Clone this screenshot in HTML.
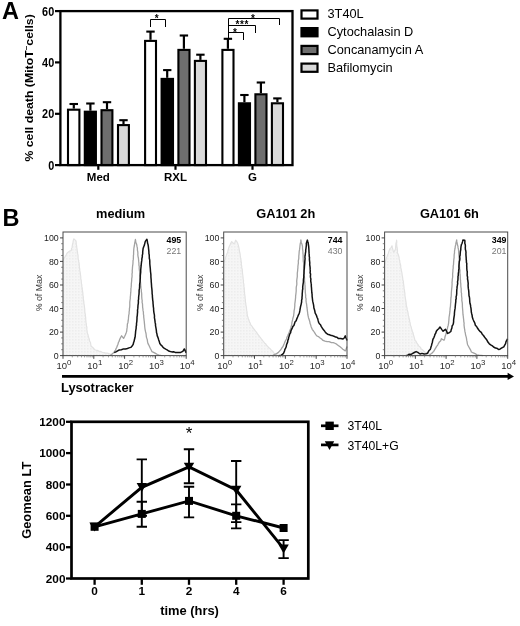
<!DOCTYPE html>
<html><head><meta charset="utf-8"><title>Figure</title>
<style>
html,body{margin:0;padding:0;background:#fff;}
body{width:520px;height:626px;overflow:hidden;}
svg{display:block;filter:blur(0.35px);font-family:"Liberation Sans",sans-serif;}
svg text{font-family:"Liberation Sans",sans-serif;}
.b{font-weight:bold;}
</style></head><body>
<svg width="520" height="626" viewBox="0 0 520 626">
<rect width="520" height="626" fill="#fff"/>
<g id="panelA">
<line x1="73.8" y1="108.6" x2="73.8" y2="104.0" stroke="#000" stroke-width="2.2"/>
<line x1="69.5" y1="104.0" x2="78.0" y2="104.0" stroke="#000" stroke-width="2.1"/>
<rect x="68.0" y="109.7" width="11.4" height="55.4" fill="#fff" stroke="#000" stroke-width="2.1"/>
<line x1="90.4" y1="110.7" x2="90.4" y2="103.5" stroke="#000" stroke-width="2.2"/>
<line x1="86.2" y1="103.5" x2="94.6" y2="103.5" stroke="#000" stroke-width="2.1"/>
<rect x="84.8" y="111.7" width="11.1" height="53.4" fill="#000" stroke="#000" stroke-width="2.1"/>
<line x1="107.0" y1="109.1" x2="107.0" y2="102.2" stroke="#000" stroke-width="2.2"/>
<line x1="102.8" y1="102.2" x2="111.2" y2="102.2" stroke="#000" stroke-width="2.1"/>
<rect x="101.5" y="110.2" width="10.9" height="54.9" fill="#6e6e6e" stroke="#000" stroke-width="2.1"/>
<line x1="123.5" y1="124.0" x2="123.5" y2="120.2" stroke="#000" stroke-width="2.2"/>
<line x1="119.3" y1="120.2" x2="127.7" y2="120.2" stroke="#000" stroke-width="2.1"/>
<rect x="118.0" y="125.1" width="10.9" height="40.0" fill="#d9d9d9" stroke="#000" stroke-width="2.1"/>
<line x1="150.5" y1="39.8" x2="150.5" y2="31.6" stroke="#000" stroke-width="2.2"/>
<line x1="146.3" y1="31.6" x2="154.7" y2="31.6" stroke="#000" stroke-width="2.1"/>
<rect x="145.1" y="40.9" width="10.9" height="124.2" fill="#fff" stroke="#000" stroke-width="2.1"/>
<line x1="167.2" y1="77.8" x2="167.2" y2="70.1" stroke="#000" stroke-width="2.2"/>
<line x1="163.1" y1="70.1" x2="171.4" y2="70.1" stroke="#000" stroke-width="2.1"/>
<rect x="161.6" y="78.9" width="11.4" height="86.2" fill="#000" stroke="#000" stroke-width="2.1"/>
<line x1="183.9" y1="48.8" x2="183.9" y2="35.5" stroke="#000" stroke-width="2.2"/>
<line x1="179.7" y1="35.5" x2="188.1" y2="35.5" stroke="#000" stroke-width="2.1"/>
<rect x="178.4" y="49.9" width="11.1" height="115.2" fill="#6e6e6e" stroke="#000" stroke-width="2.1"/>
<line x1="200.4" y1="59.9" x2="200.4" y2="54.7" stroke="#000" stroke-width="2.2"/>
<line x1="196.2" y1="54.7" x2="204.6" y2="54.7" stroke="#000" stroke-width="2.1"/>
<rect x="194.9" y="60.9" width="11.1" height="104.2" fill="#d9d9d9" stroke="#000" stroke-width="2.1"/>
<line x1="227.9" y1="48.8" x2="227.9" y2="38.8" stroke="#000" stroke-width="2.2"/>
<line x1="223.7" y1="38.8" x2="232.1" y2="38.8" stroke="#000" stroke-width="2.1"/>
<rect x="222.4" y="49.9" width="11.1" height="115.2" fill="#fff" stroke="#000" stroke-width="2.1"/>
<line x1="244.4" y1="102.2" x2="244.4" y2="95.0" stroke="#000" stroke-width="2.2"/>
<line x1="240.2" y1="95.0" x2="248.6" y2="95.0" stroke="#000" stroke-width="2.1"/>
<rect x="238.9" y="103.3" width="11.1" height="61.8" fill="#000" stroke="#000" stroke-width="2.1"/>
<line x1="260.9" y1="93.2" x2="260.9" y2="82.5" stroke="#000" stroke-width="2.2"/>
<line x1="256.7" y1="82.5" x2="265.1" y2="82.5" stroke="#000" stroke-width="2.1"/>
<rect x="255.4" y="94.3" width="11.1" height="70.8" fill="#6e6e6e" stroke="#000" stroke-width="2.1"/>
<line x1="277.4" y1="102.2" x2="277.4" y2="98.4" stroke="#000" stroke-width="2.2"/>
<line x1="273.2" y1="98.4" x2="281.6" y2="98.4" stroke="#000" stroke-width="2.1"/>
<rect x="271.9" y="103.3" width="11.1" height="61.8" fill="#d9d9d9" stroke="#000" stroke-width="2.1"/>
<rect x="60.4" y="11.1" width="232.1" height="154" fill="none" stroke="#000" stroke-width="2.3"/>
<line x1="55" y1="165.1" x2="60.4" y2="165.1" stroke="#000" stroke-width="2.2"/>
<text transform="translate(54.2,169.5) scale(0.87,1)" class="b" font-size="12.5" text-anchor="end">0</text>
<line x1="55" y1="113.8" x2="60.4" y2="113.8" stroke="#000" stroke-width="2.2"/>
<text transform="translate(54.2,118.2) scale(0.87,1)" class="b" font-size="12.5" text-anchor="end">20</text>
<line x1="55" y1="62.4" x2="60.4" y2="62.4" stroke="#000" stroke-width="2.2"/>
<text transform="translate(54.2,66.8) scale(0.87,1)" class="b" font-size="12.5" text-anchor="end">40</text>
<line x1="55" y1="11.1" x2="60.4" y2="11.1" stroke="#000" stroke-width="2.2"/>
<text transform="translate(54.2,15.5) scale(0.87,1)" class="b" font-size="12.5" text-anchor="end">60</text>
<line x1="98.3" y1="165.1" x2="98.3" y2="169.8" stroke="#000" stroke-width="2.2"/>
<text x="98.3" y="180.6" class="b" font-size="11.5" text-anchor="middle">Med</text>
<line x1="175.5" y1="165.1" x2="175.5" y2="169.8" stroke="#000" stroke-width="2.2"/>
<text x="175.5" y="180.6" class="b" font-size="11.5" text-anchor="middle">RXL</text>
<line x1="252.5" y1="165.1" x2="252.5" y2="169.8" stroke="#000" stroke-width="2.2"/>
<text x="252.5" y="180.6" class="b" font-size="11.5" text-anchor="middle">G</text>
<path d="M150.5 27 V19.5 H165.5 V27" fill="none" stroke="#000" stroke-width="1"/>
<text x="156.8" y="22.3" font-size="10" class="b" text-anchor="middle">*</text>
<path d="M228.5 40 V18.5 H279.5 V25" fill="none" stroke="#000" stroke-width="1"/>
<path d="M228.5 25.5 H255.5 V33" fill="none" stroke="#000" stroke-width="1"/>
<path d="M228.5 32.5 H243.5 V40" fill="none" stroke="#000" stroke-width="1"/>
<text x="253" y="21.5" font-size="10" class="b" text-anchor="middle">*</text>
<text x="242.3" y="28.3" font-size="10" class="b" text-anchor="middle" letter-spacing="0.6">***</text>
<text x="235" y="35.5" font-size="10" class="b" text-anchor="middle">*</text>
<text id="ylabA" transform="translate(32.6,87.9) scale(0.9,1) rotate(-90)" class="b" font-size="12.3" text-anchor="middle">% cell death (MitoT<tspan dy="-4" font-size="8">&#8722;</tspan><tspan dy="4">cells)</tspan></text>
<rect x="301.5" y="10.4" width="16" height="8.2" fill="#fff" stroke="#000" stroke-width="2.2"/>
<text x="327.5" y="18.3" font-size="12.75">3T40L</text>
<rect x="301.5" y="28.1" width="16" height="8.2" fill="#000" stroke="#000" stroke-width="2.2"/>
<text x="327.5" y="36.0" font-size="12.75">Cytochalasin D</text>
<rect x="301.5" y="45.9" width="16" height="8.2" fill="#6e6e6e" stroke="#000" stroke-width="2.2"/>
<text x="327.5" y="53.8" font-size="12.75">Concanamycin A</text>
<rect x="301.5" y="63.6" width="16" height="8.2" fill="#d9d9d9" stroke="#000" stroke-width="2.2"/>
<text x="327.5" y="71.5" font-size="12.75">Bafilomycin</text>
<text x="2" y="19" class="b" font-size="23.5">A</text>
</g>
<g id="panelB">
<text x="2.5" y="225.5" class="b" font-size="23.5">B</text>
<defs><pattern id="dots" width="3" height="3" patternUnits="userSpaceOnUse"><rect width="3" height="3" fill="#f6f6f6"/><rect width="1.5" height="1.5" fill="#ededed"/></pattern></defs>
<path d="M63.1 260.0 L64.0 258.2 L65.0 256.8 L66.1 255.0 L67.1 252.9 L68.4 252.0 L69.7 251.1 L71.3 250.5 L71.5 248.6 L72.1 247.4 L72.3 245.7 L72.5 244.3 L73.0 242.6 L73.3 240.4 L73.9 238.8 L76.0 240.9 L76.2 242.9 L76.3 244.4 L76.6 245.6 L76.8 247.8 L77.1 249.1 L77.2 250.8 L77.6 252.7 L77.7 253.9 L78.1 255.7 L78.1 257.5 L78.2 259.3 L78.7 260.5 L78.8 261.9 L79.1 263.4 L79.3 265.6 L79.4 267.3 L79.7 268.9 L79.8 270.4 L80.2 272.3 L80.3 273.7 L80.5 275.0 L80.8 277.1 L80.8 278.9 L81.2 280.2 L81.3 281.6 L81.4 283.3 L81.8 284.9 L81.8 286.6 L82.3 288.5 L82.3 289.9 L82.7 291.9 L82.9 293.8 L82.9 295.0 L83.3 296.8 L83.3 298.9 L83.5 299.9 L83.8 301.6 L83.9 303.6 L84.2 304.8 L84.4 306.7 L84.7 308.8 L84.8 310.1 L84.8 311.8 L85.2 313.6 L85.4 315.2 L85.5 316.5 L85.7 317.8 L85.7 319.4 L85.9 321.2 L86.1 322.9 L86.3 324.2 L86.5 325.9 L86.9 327.5 L86.8 329.6 L87.1 330.9 L87.2 332.6 L88.0 334.7 L88.3 336.0 L88.7 337.4 L89.3 339.3 L89.7 341.4 L90.5 342.4 L90.7 344.5 L91.2 346.2 L92.8 347.5 L94.1 349.1 L95.3 350.0 L97.2 350.4 L98.8 351.1 L100.3 351.4 L102.3 352.2 L103.9 352.7 L105.6 353.1 L107.2 353.0 L108.7 353.6 L110.8 354.3 L113.0 355.4 L112.9 355.6 L63.0 355.6 Z" fill="url(#dots)" stroke="#e2e2e2" stroke-width="1.2" stroke-linejoin="round"/>
<path d="M110.2 355.6 L111.5 354.6 L113.0 353.2 L114.2 351.9 L115.5 350.0 L116.1 348.5 L116.8 347.2 L117.3 345.8 L118.0 344.2 L118.5 342.2 L119.1 341.3 L119.6 339.6 L120.6 337.5 L121.6 335.8 L123.6 338.4 L124.7 336.2 L125.4 334.7 L126.3 332.4 L126.7 331.3 L126.9 329.0 L127.1 327.9 L127.3 325.7 L127.4 323.9 L127.9 322.7 L128.2 320.7 L128.4 318.9 L128.5 317.5 L128.7 315.4 L129.1 313.7 L129.1 312.0 L129.4 310.3 L129.4 308.8 L129.7 307.2 L129.8 305.5 L129.8 303.9 L129.8 302.2 L130.0 300.5 L130.3 298.5 L130.3 297.0 L130.5 295.7 L130.6 293.7 L130.8 292.2 L130.9 290.2 L130.9 288.7 L131.1 287.4 L131.3 285.6 L131.3 284.1 L131.5 282.3 L131.7 280.5 L131.7 278.8 L132.0 277.2 L132.1 275.7 L132.0 274.2 L132.3 272.3 L132.2 270.9 L132.4 268.7 L132.5 267.0 L132.7 265.4 L132.9 264.2 L133.0 262.2 L133.0 260.9 L133.3 259.4 L133.4 257.3 L133.4 255.7 L133.6 254.5 L133.6 252.3 L133.7 250.9 L133.8 249.0 L134.0 247.5 L134.4 245.5 L134.7 243.2 L135.0 241.8 L135.4 239.5 L135.8 241.7 L136.1 242.9 L136.7 244.5 L137.0 246.4 L137.4 248.2 L137.4 250.1 L137.7 251.3 L137.9 253.3 L137.8 254.7 L138.1 256.8 L138.4 258.0 L138.6 260.1 L138.7 261.4 L138.9 263.1 L138.9 265.0 L139.3 266.8 L139.2 268.3 L139.4 270.1 L139.6 271.5 L139.7 273.2 L139.9 274.9 L140.0 276.9 L140.1 278.3 L140.2 279.8 L140.4 281.4 L140.6 283.3 L140.7 284.6 L140.8 286.7 L141.0 288.2 L141.3 289.6 L141.3 291.2 L141.6 293.0 L141.7 294.4 L141.7 296.2 L141.8 297.6 L141.9 299.0 L142.2 300.6 L142.1 302.4 L142.5 303.9 L142.6 306.0 L142.6 307.2 L142.9 308.9 L143.0 310.4 L143.4 312.1 L143.4 314.2 L143.7 315.3 L143.7 317.0 L143.9 318.4 L144.1 320.3 L144.3 321.7 L144.4 323.2 L144.6 324.9 L144.7 326.5 L144.9 328.3 L145.2 330.1 L145.6 331.9 L146.0 333.5 L146.2 335.0 L146.4 337.1 L146.9 338.6 L147.3 339.8 L147.6 342.1 L148.0 343.6 L148.7 344.8 L149.6 346.7 L150.4 348.5 L151.2 350.0 L152.0 351.7 L153.6 352.4 L155.5 353.4 L157.4 354.5 L159.1 355.1 L161.0 355.4 L162.6 355.6" fill="none" stroke="#a2a2a2" stroke-width="1.3" stroke-linejoin="round"/>
<path d="M114.2 352.6 L115.9 351.9 L117.6 350.8 L119.2 350.0 L121.4 349.7 L123.5 348.9 L125.5 349.0 L127.4 348.5 L129.0 347.9 L130.8 347.4 L132.1 346.0 L133.2 344.4 L133.6 342.5 L134.1 341.3 L134.4 339.7 L134.9 337.8 L135.2 336.5 L135.3 334.9 L135.5 333.2 L135.6 331.6 L135.8 330.2 L136.1 328.6 L136.2 326.4 L136.5 325.3 L136.5 323.5 L136.8 321.7 L136.9 320.1 L137.0 318.4 L137.0 317.2 L137.3 315.5 L137.4 313.9 L137.6 311.9 L137.5 310.4 L137.8 308.4 L137.9 307.1 L138.0 305.2 L138.3 303.7 L138.4 301.9 L138.3 300.7 L138.6 299.2 L138.6 297.5 L138.8 295.5 L139.0 294.3 L139.1 292.3 L139.1 290.5 L139.4 288.7 L139.6 287.1 L139.6 285.4 L139.7 283.9 L140.0 282.1 L140.1 280.8 L140.2 278.9 L140.3 277.4 L140.3 275.6 L140.5 273.9 L140.7 272.2 L140.7 270.3 L140.8 269.0 L141.0 267.0 L141.2 265.2 L141.3 263.9 L141.5 262.1 L141.8 260.4 L141.9 258.5 L142.3 256.8 L142.3 255.3 L142.7 253.9 L142.7 252.0 L142.9 250.2 L143.1 248.6 L143.7 246.7 L144.4 245.1 L144.8 243.4 L145.3 241.4 L146.9 239.3 L147.3 240.9 L147.6 243.3 L148.1 244.8 L148.4 246.8 L148.5 248.1 L148.7 249.9 L148.9 251.9 L148.9 253.5 L149.2 254.7 L149.3 256.8 L149.3 258.3 L149.7 259.9 L149.8 261.8 L149.8 263.5 L149.9 264.7 L150.1 266.6 L150.3 268.5 L150.4 270.0 L150.5 271.5 L150.7 273.0 L150.9 274.8 L150.9 276.7 L151.0 278.1 L151.2 280.1 L151.2 281.5 L151.4 283.4 L151.5 285.0 L151.6 286.8 L151.8 288.3 L152.0 290.4 L152.1 292.0 L152.1 293.3 L152.4 295.5 L152.4 296.8 L152.6 298.6 L152.7 300.1 L153.0 301.9 L153.0 303.2 L153.2 304.9 L153.3 306.7 L153.6 308.3 L153.6 309.8 L153.8 311.6 L154.0 313.1 L154.3 314.4 L154.5 316.0 L154.4 317.7 L154.7 319.2 L155.0 321.1 L155.1 322.4 L155.5 324.0 L155.5 325.6 L155.8 327.2 L156.2 329.3 L156.4 330.8 L156.5 332.5 L156.9 333.7 L157.2 335.6 L157.8 337.1 L158.3 338.5 L158.7 339.9 L159.3 341.6 L159.8 343.5 L160.8 344.8 L162.0 345.8 L163.0 347.3 L164.0 348.2 L165.7 349.1 L167.1 349.8 L168.6 351.0 L170.3 351.5 L171.8 351.9 L173.5 351.7 L175.2 352.4 L177.0 352.5 L178.5 352.5 L180.7 352.4 L182.8 351.4 L184.3 349.0 L185.2 350.5 L185.9 352.8" fill="none" stroke="#111" stroke-width="1.5" stroke-linejoin="round"/>
<rect x="63.0" y="232.0" width="123.2" height="123.6" fill="none" stroke="#4a4a4a" stroke-width="1"/>
<line x1="60.0" y1="355.6" x2="63.0" y2="355.6" stroke="#444" stroke-width="1"/>
<text x="58.7" y="358.7" font-size="8.8" fill="#222" text-anchor="end">0</text>
<line x1="61.2" y1="349.7" x2="63.0" y2="349.7" stroke="#666" stroke-width="0.8"/>
<line x1="61.2" y1="343.8" x2="63.0" y2="343.8" stroke="#666" stroke-width="0.8"/>
<line x1="61.2" y1="337.9" x2="63.0" y2="337.9" stroke="#666" stroke-width="0.8"/>
<line x1="60.0" y1="332.1" x2="63.0" y2="332.1" stroke="#444" stroke-width="1"/>
<text x="58.7" y="335.2" font-size="8.8" fill="#222" text-anchor="end">20</text>
<line x1="61.2" y1="326.2" x2="63.0" y2="326.2" stroke="#666" stroke-width="0.8"/>
<line x1="61.2" y1="320.3" x2="63.0" y2="320.3" stroke="#666" stroke-width="0.8"/>
<line x1="61.2" y1="314.4" x2="63.0" y2="314.4" stroke="#666" stroke-width="0.8"/>
<line x1="60.0" y1="308.5" x2="63.0" y2="308.5" stroke="#444" stroke-width="1"/>
<text x="58.7" y="311.6" font-size="8.8" fill="#222" text-anchor="end">40</text>
<line x1="61.2" y1="302.6" x2="63.0" y2="302.6" stroke="#666" stroke-width="0.8"/>
<line x1="61.2" y1="296.7" x2="63.0" y2="296.7" stroke="#666" stroke-width="0.8"/>
<line x1="61.2" y1="290.8" x2="63.0" y2="290.8" stroke="#666" stroke-width="0.8"/>
<line x1="60.0" y1="285.0" x2="63.0" y2="285.0" stroke="#444" stroke-width="1"/>
<text x="58.7" y="288.1" font-size="8.8" fill="#222" text-anchor="end">60</text>
<line x1="61.2" y1="279.1" x2="63.0" y2="279.1" stroke="#666" stroke-width="0.8"/>
<line x1="61.2" y1="273.2" x2="63.0" y2="273.2" stroke="#666" stroke-width="0.8"/>
<line x1="61.2" y1="267.3" x2="63.0" y2="267.3" stroke="#666" stroke-width="0.8"/>
<line x1="60.0" y1="261.4" x2="63.0" y2="261.4" stroke="#444" stroke-width="1"/>
<text x="58.7" y="264.5" font-size="8.8" fill="#222" text-anchor="end">80</text>
<line x1="61.2" y1="255.5" x2="63.0" y2="255.5" stroke="#666" stroke-width="0.8"/>
<line x1="61.2" y1="249.6" x2="63.0" y2="249.6" stroke="#666" stroke-width="0.8"/>
<line x1="61.2" y1="243.7" x2="63.0" y2="243.7" stroke="#666" stroke-width="0.8"/>
<line x1="60.0" y1="237.9" x2="63.0" y2="237.9" stroke="#444" stroke-width="1"/>
<text x="58.7" y="241.0" font-size="8.8" fill="#222" text-anchor="end">100</text>
<line x1="63.0" y1="355.6" x2="63.0" y2="358.8" stroke="#444" stroke-width="1"/>
<text x="64.0" y="369.2" font-size="9.5" fill="#2a2a2a" text-anchor="middle">10<tspan dy="-4" font-size="7.8">0</tspan></text>
<line x1="72.3" y1="355.6" x2="72.3" y2="357.4" stroke="#777" stroke-width="0.7"/>
<line x1="77.7" y1="355.6" x2="77.7" y2="357.4" stroke="#777" stroke-width="0.7"/>
<line x1="81.5" y1="355.6" x2="81.5" y2="357.4" stroke="#777" stroke-width="0.7"/>
<line x1="84.5" y1="355.6" x2="84.5" y2="357.4" stroke="#777" stroke-width="0.7"/>
<line x1="87.0" y1="355.6" x2="87.0" y2="357.4" stroke="#777" stroke-width="0.7"/>
<line x1="89.0" y1="355.6" x2="89.0" y2="357.4" stroke="#777" stroke-width="0.7"/>
<line x1="90.8" y1="355.6" x2="90.8" y2="357.4" stroke="#777" stroke-width="0.7"/>
<line x1="92.4" y1="355.6" x2="92.4" y2="357.4" stroke="#777" stroke-width="0.7"/>
<line x1="93.8" y1="355.6" x2="93.8" y2="358.8" stroke="#444" stroke-width="1"/>
<text x="94.8" y="369.2" font-size="9.5" fill="#2a2a2a" text-anchor="middle">10<tspan dy="-4" font-size="7.8">1</tspan></text>
<line x1="103.1" y1="355.6" x2="103.1" y2="357.4" stroke="#777" stroke-width="0.7"/>
<line x1="108.5" y1="355.6" x2="108.5" y2="357.4" stroke="#777" stroke-width="0.7"/>
<line x1="112.3" y1="355.6" x2="112.3" y2="357.4" stroke="#777" stroke-width="0.7"/>
<line x1="115.3" y1="355.6" x2="115.3" y2="357.4" stroke="#777" stroke-width="0.7"/>
<line x1="117.8" y1="355.6" x2="117.8" y2="357.4" stroke="#777" stroke-width="0.7"/>
<line x1="119.8" y1="355.6" x2="119.8" y2="357.4" stroke="#777" stroke-width="0.7"/>
<line x1="121.6" y1="355.6" x2="121.6" y2="357.4" stroke="#777" stroke-width="0.7"/>
<line x1="123.2" y1="355.6" x2="123.2" y2="357.4" stroke="#777" stroke-width="0.7"/>
<line x1="124.6" y1="355.6" x2="124.6" y2="358.8" stroke="#444" stroke-width="1"/>
<text x="125.6" y="369.2" font-size="9.5" fill="#2a2a2a" text-anchor="middle">10<tspan dy="-4" font-size="7.8">2</tspan></text>
<line x1="133.9" y1="355.6" x2="133.9" y2="357.4" stroke="#777" stroke-width="0.7"/>
<line x1="139.3" y1="355.6" x2="139.3" y2="357.4" stroke="#777" stroke-width="0.7"/>
<line x1="143.1" y1="355.6" x2="143.1" y2="357.4" stroke="#777" stroke-width="0.7"/>
<line x1="146.1" y1="355.6" x2="146.1" y2="357.4" stroke="#777" stroke-width="0.7"/>
<line x1="148.6" y1="355.6" x2="148.6" y2="357.4" stroke="#777" stroke-width="0.7"/>
<line x1="150.6" y1="355.6" x2="150.6" y2="357.4" stroke="#777" stroke-width="0.7"/>
<line x1="152.4" y1="355.6" x2="152.4" y2="357.4" stroke="#777" stroke-width="0.7"/>
<line x1="154.0" y1="355.6" x2="154.0" y2="357.4" stroke="#777" stroke-width="0.7"/>
<line x1="155.4" y1="355.6" x2="155.4" y2="358.8" stroke="#444" stroke-width="1"/>
<text x="156.4" y="369.2" font-size="9.5" fill="#2a2a2a" text-anchor="middle">10<tspan dy="-4" font-size="7.8">3</tspan></text>
<line x1="164.7" y1="355.6" x2="164.7" y2="357.4" stroke="#777" stroke-width="0.7"/>
<line x1="170.1" y1="355.6" x2="170.1" y2="357.4" stroke="#777" stroke-width="0.7"/>
<line x1="173.9" y1="355.6" x2="173.9" y2="357.4" stroke="#777" stroke-width="0.7"/>
<line x1="176.9" y1="355.6" x2="176.9" y2="357.4" stroke="#777" stroke-width="0.7"/>
<line x1="179.4" y1="355.6" x2="179.4" y2="357.4" stroke="#777" stroke-width="0.7"/>
<line x1="181.4" y1="355.6" x2="181.4" y2="357.4" stroke="#777" stroke-width="0.7"/>
<line x1="183.2" y1="355.6" x2="183.2" y2="357.4" stroke="#777" stroke-width="0.7"/>
<line x1="184.8" y1="355.6" x2="184.8" y2="357.4" stroke="#777" stroke-width="0.7"/>
<line x1="186.2" y1="355.6" x2="186.2" y2="358.8" stroke="#444" stroke-width="1"/>
<text x="187.2" y="369.2" font-size="9.5" fill="#2a2a2a" text-anchor="middle">10<tspan dy="-4" font-size="7.8">4</tspan></text>
<text transform="translate(41.8,293) rotate(-90)" font-size="8.8" fill="#383838" text-anchor="middle">% of Max</text>
<text x="120.6" y="218.4" class="b" font-size="12.8" text-anchor="middle">medium</text>
<text x="181.2" y="243.2" class="b" font-size="8.8" text-anchor="end">495</text>
<text x="181.2" y="254.2" font-size="8.8" fill="#777" text-anchor="end">221</text>
<path d="M223.7 263.5 L224.0 262.3 L224.7 260.2 L225.3 259.2 L225.6 257.2 L226.2 255.7 L226.6 254.6 L227.3 252.9 L227.8 251.4 L228.2 249.7 L228.7 247.9 L229.1 246.8 L230.1 244.8 L230.7 243.3 L231.7 241.6 L234.0 243.9 L234.9 242.5 L235.6 240.2 L236.8 241.6 L237.8 243.6 L238.3 245.1 L238.8 247.3 L239.2 249.2 L239.4 251.0 L239.9 253.0 L240.2 254.4 L240.3 256.2 L240.5 257.4 L240.9 259.0 L241.0 261.0 L241.4 262.5 L241.3 264.2 L241.7 266.1 L241.7 267.9 L242.2 269.1 L242.4 271.0 L242.4 272.0 L242.6 273.7 L242.9 276.0 L243.0 277.7 L243.2 279.2 L243.5 280.4 L243.4 282.6 L243.8 283.9 L243.9 285.3 L244.0 286.9 L244.3 288.6 L244.3 290.6 L244.5 291.7 L244.6 293.9 L244.8 295.2 L245.1 297.2 L245.1 298.3 L245.4 300.2 L245.4 302.0 L245.8 303.4 L245.9 305.3 L246.4 306.9 L246.5 308.6 L246.7 310.4 L247.1 312.5 L247.1 313.8 L247.4 315.8 L247.8 316.9 L248.4 318.8 L249.0 320.3 L249.4 321.9 L250.2 323.1 L250.9 325.1 L252.0 326.2 L253.1 328.0 L254.2 329.3 L255.5 331.2 L256.4 332.1 L257.6 334.0 L258.3 334.8 L259.6 336.6 L260.4 337.6 L261.5 339.2 L262.6 340.5 L263.5 341.7 L264.5 342.9 L265.8 343.9 L266.6 345.5 L267.7 346.3 L268.9 347.8 L270.1 348.7 L271.5 350.4 L272.6 351.1 L273.7 352.9 L275.3 354.0 L276.9 354.8 L278.4 355.9 L278.5 355.6 L223.7 355.6 Z" fill="url(#dots)" stroke="#e2e2e2" stroke-width="1.2" stroke-linejoin="round"/>
<path d="M272.3 355.8 L273.9 354.9 L275.4 354.2 L276.9 353.4 L278.5 352.4 L279.5 351.1 L280.8 349.8 L281.8 348.0 L283.0 346.5 L283.7 344.7 L284.4 343.2 L284.9 341.9 L285.6 340.5 L286.5 339.0 L286.9 337.3 L287.7 335.8 L288.2 334.5 L289.1 332.9 L289.6 331.3 L290.3 329.4 L290.9 328.1 L291.1 326.6 L291.7 324.8 L291.9 322.6 L292.2 321.3 L292.6 319.7 L293.0 317.9 L293.6 316.0 L293.8 314.0 L294.0 312.6 L294.1 310.6 L294.5 309.0 L294.6 307.7 L294.8 305.7 L294.8 304.0 L295.0 302.7 L295.2 301.2 L295.4 299.4 L295.6 297.4 L295.6 296.1 L295.8 294.6 L296.0 293.0 L296.2 291.0 L296.2 289.4 L296.2 287.9 L296.4 286.4 L296.8 284.6 L296.8 282.9 L296.7 281.1 L296.9 279.2 L297.1 278.0 L297.3 276.3 L297.3 274.4 L297.3 273.1 L297.6 271.0 L297.7 269.4 L297.9 267.9 L297.9 266.5 L298.1 264.8 L298.4 262.8 L298.3 261.2 L298.6 259.4 L298.8 258.3 L298.8 256.3 L299.0 254.3 L299.1 253.0 L299.2 251.4 L299.5 249.9 L299.8 247.6 L300.0 245.6 L300.2 244.0 L300.7 241.9 L300.9 240.0 L301.3 242.7 L302.0 244.3 L302.5 246.5 L302.5 248.4 L302.6 249.7 L302.9 251.1 L302.9 253.3 L303.1 254.4 L303.1 256.6 L303.2 258.2 L303.2 259.5 L303.3 261.1 L303.6 262.8 L303.7 264.7 L303.6 266.4 L303.8 267.9 L303.9 269.7 L304.0 271.0 L304.0 273.1 L304.1 274.7 L304.2 275.9 L304.5 277.9 L304.5 279.5 L304.6 281.3 L304.8 282.5 L304.9 284.4 L305.1 286.0 L305.1 287.5 L305.2 289.3 L305.3 290.8 L305.3 292.5 L305.5 293.9 L305.7 295.5 L305.6 297.2 L306.1 298.9 L306.0 300.7 L306.2 302.2 L306.6 304.3 L306.8 306.0 L306.9 307.2 L307.2 309.1 L307.4 311.1 L307.6 312.2 L307.8 314.5 L308.1 315.8 L308.5 317.7 L309.3 320.0 L309.8 321.7 L310.1 323.6 L310.6 324.7 L311.1 326.7 L311.7 328.0 L312.2 329.3 L313.5 331.0 L314.6 332.6 L315.8 334.6 L317.0 336.0 L318.4 336.6 L320.1 338.0 L321.6 339.1 L323.0 340.4 L325.0 341.2 L327.1 341.6 L329.1 341.6 L331.4 342.6 L333.3 342.6 L335.5 343.5 L336.9 344.4 L338.6 345.7 L340.1 346.8 L341.5 347.9 L342.8 349.2 L344.0 349.9 L345.3 350.9 L345.9 349.8 L346.4 348.2 L347.0 346.5" fill="none" stroke="#a2a2a2" stroke-width="1.3" stroke-linejoin="round"/>
<path d="M278.5 355.8 L279.8 355.6 L281.3 355.1 L283.0 353.9 L283.7 353.1 L284.5 351.0 L284.9 349.3 L285.6 348.1 L286.2 346.8 L286.5 344.8 L287.2 343.1 L287.6 342.1 L287.9 340.1 L288.4 339.1 L288.8 336.9 L289.1 336.2 L289.8 333.9 L290.6 332.9 L290.9 330.8 L291.6 329.4 L292.2 328.1 L292.9 326.4 L293.9 325.5 L294.7 323.1 L295.2 321.5 L296.1 320.9 L296.7 319.1 L297.6 317.0 L298.2 315.4 L298.9 314.1 L299.5 312.4 L299.8 310.9 L300.1 309.1 L300.5 306.8 L300.9 305.3 L301.2 304.1 L301.6 302.0 L301.6 300.2 L302.0 298.8 L302.0 297.2 L302.2 295.6 L302.2 293.8 L302.4 291.8 L302.5 289.9 L302.8 289.0 L302.7 287.1 L302.9 285.3 L303.1 283.8 L303.4 282.2 L303.4 280.1 L303.5 279.0 L303.8 277.1 L303.8 275.0 L304.0 273.4 L304.0 272.5 L304.1 270.0 L304.3 268.8 L304.4 267.1 L304.5 265.8 L304.7 263.7 L304.8 261.9 L304.9 260.4 L305.1 258.5 L304.9 257.0 L305.2 255.2 L305.4 253.2 L305.7 251.9 L305.7 250.2 L306.0 248.3 L306.1 247.3 L306.4 244.9 L306.3 243.4 L307.0 241.2 L307.4 240.1 L307.7 241.4 L308.2 242.8 L308.4 244.6 L308.7 246.7 L308.8 248.0 L308.9 249.8 L309.0 251.7 L309.1 253.4 L309.2 254.5 L309.2 256.2 L309.5 257.5 L309.4 259.4 L309.6 261.1 L309.8 262.8 L309.7 264.7 L310.0 266.6 L310.1 267.4 L310.2 269.9 L310.3 270.8 L310.1 272.9 L310.6 274.0 L310.4 276.3 L310.5 277.4 L310.9 279.2 L310.7 280.9 L311.1 283.2 L311.3 284.1 L311.3 286.2 L311.5 287.9 L311.6 289.7 L311.7 290.7 L311.8 292.7 L312.1 294.3 L312.1 296.2 L312.3 297.6 L312.5 299.5 L312.7 301.2 L313.1 302.9 L313.5 304.7 L313.7 305.9 L313.9 308.0 L314.5 309.8 L314.8 311.0 L315.2 313.2 L315.9 314.4 L316.4 315.3 L317.1 317.5 L317.7 318.7 L318.1 320.4 L318.6 322.3 L319.4 323.7 L320.5 324.8 L321.2 326.4 L322.3 328.1 L323.1 329.3 L324.3 330.7 L325.3 332.2 L326.5 333.4 L327.6 334.2 L329.4 334.8 L330.9 335.4 L332.2 335.6 L333.9 336.2 L335.5 337.1 L337.0 337.2 L338.5 338.6 L340.7 338.4 L343.0 339.0 L344.2 338.0 L345.3 335.9 L345.9 337.7 L346.5 339.0 L347.1 340.6" fill="none" stroke="#111" stroke-width="1.5" stroke-linejoin="round"/>
<rect x="223.7" y="232.0" width="123.3" height="123.6" fill="none" stroke="#4a4a4a" stroke-width="1"/>
<line x1="220.7" y1="355.6" x2="223.7" y2="355.6" stroke="#444" stroke-width="1"/>
<text x="219.4" y="358.7" font-size="8.8" fill="#222" text-anchor="end">0</text>
<line x1="221.9" y1="349.7" x2="223.7" y2="349.7" stroke="#666" stroke-width="0.8"/>
<line x1="221.9" y1="343.8" x2="223.7" y2="343.8" stroke="#666" stroke-width="0.8"/>
<line x1="221.9" y1="337.9" x2="223.7" y2="337.9" stroke="#666" stroke-width="0.8"/>
<line x1="220.7" y1="332.1" x2="223.7" y2="332.1" stroke="#444" stroke-width="1"/>
<text x="219.4" y="335.2" font-size="8.8" fill="#222" text-anchor="end">20</text>
<line x1="221.9" y1="326.2" x2="223.7" y2="326.2" stroke="#666" stroke-width="0.8"/>
<line x1="221.9" y1="320.3" x2="223.7" y2="320.3" stroke="#666" stroke-width="0.8"/>
<line x1="221.9" y1="314.4" x2="223.7" y2="314.4" stroke="#666" stroke-width="0.8"/>
<line x1="220.7" y1="308.5" x2="223.7" y2="308.5" stroke="#444" stroke-width="1"/>
<text x="219.4" y="311.6" font-size="8.8" fill="#222" text-anchor="end">40</text>
<line x1="221.9" y1="302.6" x2="223.7" y2="302.6" stroke="#666" stroke-width="0.8"/>
<line x1="221.9" y1="296.7" x2="223.7" y2="296.7" stroke="#666" stroke-width="0.8"/>
<line x1="221.9" y1="290.8" x2="223.7" y2="290.8" stroke="#666" stroke-width="0.8"/>
<line x1="220.7" y1="285.0" x2="223.7" y2="285.0" stroke="#444" stroke-width="1"/>
<text x="219.4" y="288.1" font-size="8.8" fill="#222" text-anchor="end">60</text>
<line x1="221.9" y1="279.1" x2="223.7" y2="279.1" stroke="#666" stroke-width="0.8"/>
<line x1="221.9" y1="273.2" x2="223.7" y2="273.2" stroke="#666" stroke-width="0.8"/>
<line x1="221.9" y1="267.3" x2="223.7" y2="267.3" stroke="#666" stroke-width="0.8"/>
<line x1="220.7" y1="261.4" x2="223.7" y2="261.4" stroke="#444" stroke-width="1"/>
<text x="219.4" y="264.5" font-size="8.8" fill="#222" text-anchor="end">80</text>
<line x1="221.9" y1="255.5" x2="223.7" y2="255.5" stroke="#666" stroke-width="0.8"/>
<line x1="221.9" y1="249.6" x2="223.7" y2="249.6" stroke="#666" stroke-width="0.8"/>
<line x1="221.9" y1="243.7" x2="223.7" y2="243.7" stroke="#666" stroke-width="0.8"/>
<line x1="220.7" y1="237.9" x2="223.7" y2="237.9" stroke="#444" stroke-width="1"/>
<text x="219.4" y="241.0" font-size="8.8" fill="#222" text-anchor="end">100</text>
<line x1="223.7" y1="355.6" x2="223.7" y2="358.8" stroke="#444" stroke-width="1"/>
<text x="224.7" y="369.2" font-size="9.5" fill="#2a2a2a" text-anchor="middle">10<tspan dy="-4" font-size="7.8">0</tspan></text>
<line x1="233.0" y1="355.6" x2="233.0" y2="357.4" stroke="#777" stroke-width="0.7"/>
<line x1="238.4" y1="355.6" x2="238.4" y2="357.4" stroke="#777" stroke-width="0.7"/>
<line x1="242.3" y1="355.6" x2="242.3" y2="357.4" stroke="#777" stroke-width="0.7"/>
<line x1="245.2" y1="355.6" x2="245.2" y2="357.4" stroke="#777" stroke-width="0.7"/>
<line x1="247.7" y1="355.6" x2="247.7" y2="357.4" stroke="#777" stroke-width="0.7"/>
<line x1="249.8" y1="355.6" x2="249.8" y2="357.4" stroke="#777" stroke-width="0.7"/>
<line x1="251.5" y1="355.6" x2="251.5" y2="357.4" stroke="#777" stroke-width="0.7"/>
<line x1="253.1" y1="355.6" x2="253.1" y2="357.4" stroke="#777" stroke-width="0.7"/>
<line x1="254.5" y1="355.6" x2="254.5" y2="358.8" stroke="#444" stroke-width="1"/>
<text x="255.5" y="369.2" font-size="9.5" fill="#2a2a2a" text-anchor="middle">10<tspan dy="-4" font-size="7.8">1</tspan></text>
<line x1="263.8" y1="355.6" x2="263.8" y2="357.4" stroke="#777" stroke-width="0.7"/>
<line x1="269.2" y1="355.6" x2="269.2" y2="357.4" stroke="#777" stroke-width="0.7"/>
<line x1="273.1" y1="355.6" x2="273.1" y2="357.4" stroke="#777" stroke-width="0.7"/>
<line x1="276.1" y1="355.6" x2="276.1" y2="357.4" stroke="#777" stroke-width="0.7"/>
<line x1="278.5" y1="355.6" x2="278.5" y2="357.4" stroke="#777" stroke-width="0.7"/>
<line x1="280.6" y1="355.6" x2="280.6" y2="357.4" stroke="#777" stroke-width="0.7"/>
<line x1="282.4" y1="355.6" x2="282.4" y2="357.4" stroke="#777" stroke-width="0.7"/>
<line x1="283.9" y1="355.6" x2="283.9" y2="357.4" stroke="#777" stroke-width="0.7"/>
<line x1="285.4" y1="355.6" x2="285.4" y2="358.8" stroke="#444" stroke-width="1"/>
<text x="286.4" y="369.2" font-size="9.5" fill="#2a2a2a" text-anchor="middle">10<tspan dy="-4" font-size="7.8">2</tspan></text>
<line x1="294.6" y1="355.6" x2="294.6" y2="357.4" stroke="#777" stroke-width="0.7"/>
<line x1="300.1" y1="355.6" x2="300.1" y2="357.4" stroke="#777" stroke-width="0.7"/>
<line x1="303.9" y1="355.6" x2="303.9" y2="357.4" stroke="#777" stroke-width="0.7"/>
<line x1="306.9" y1="355.6" x2="306.9" y2="357.4" stroke="#777" stroke-width="0.7"/>
<line x1="309.3" y1="355.6" x2="309.3" y2="357.4" stroke="#777" stroke-width="0.7"/>
<line x1="311.4" y1="355.6" x2="311.4" y2="357.4" stroke="#777" stroke-width="0.7"/>
<line x1="313.2" y1="355.6" x2="313.2" y2="357.4" stroke="#777" stroke-width="0.7"/>
<line x1="314.8" y1="355.6" x2="314.8" y2="357.4" stroke="#777" stroke-width="0.7"/>
<line x1="316.2" y1="355.6" x2="316.2" y2="358.8" stroke="#444" stroke-width="1"/>
<text x="317.2" y="369.2" font-size="9.5" fill="#2a2a2a" text-anchor="middle">10<tspan dy="-4" font-size="7.8">3</tspan></text>
<line x1="325.5" y1="355.6" x2="325.5" y2="357.4" stroke="#777" stroke-width="0.7"/>
<line x1="330.9" y1="355.6" x2="330.9" y2="357.4" stroke="#777" stroke-width="0.7"/>
<line x1="334.7" y1="355.6" x2="334.7" y2="357.4" stroke="#777" stroke-width="0.7"/>
<line x1="337.7" y1="355.6" x2="337.7" y2="357.4" stroke="#777" stroke-width="0.7"/>
<line x1="340.2" y1="355.6" x2="340.2" y2="357.4" stroke="#777" stroke-width="0.7"/>
<line x1="342.2" y1="355.6" x2="342.2" y2="357.4" stroke="#777" stroke-width="0.7"/>
<line x1="344.0" y1="355.6" x2="344.0" y2="357.4" stroke="#777" stroke-width="0.7"/>
<line x1="345.6" y1="355.6" x2="345.6" y2="357.4" stroke="#777" stroke-width="0.7"/>
<line x1="347.0" y1="355.6" x2="347.0" y2="358.8" stroke="#444" stroke-width="1"/>
<text x="348.0" y="369.2" font-size="9.5" fill="#2a2a2a" text-anchor="middle">10<tspan dy="-4" font-size="7.8">4</tspan></text>
<text transform="translate(202.5,293) rotate(-90)" font-size="8.8" fill="#383838" text-anchor="middle">% of Max</text>
<text x="285.8" y="218.4" class="b" font-size="12.8" text-anchor="middle">GA101 2h</text>
<text x="342.5" y="243.2" class="b" font-size="8.8" text-anchor="end">744</text>
<text x="342.5" y="254.2" font-size="8.8" fill="#777" text-anchor="end">430</text>
<path d="M384.5 265.0 L384.9 263.3 L385.5 261.4 L385.9 259.9 L386.4 257.9 L387.1 256.8 L387.5 255.1 L388.2 253.7 L388.7 251.9 L389.3 250.2 L390.0 248.6 L391.1 247.6 L392.0 245.9 L392.3 247.4 L392.9 249.6 L393.3 251.3 L393.7 252.1 L394.8 250.7 L395.5 249.1 L395.6 247.0 L395.8 245.6 L395.9 243.5 L396.4 241.8 L396.6 240.2 L396.8 241.9 L396.6 243.6 L396.8 245.8 L397.0 247.5 L397.3 248.7 L397.5 251.0 L397.4 252.7 L398.1 254.3 L398.6 255.8 L399.1 257.3 L399.2 259.3 L399.7 260.4 L399.9 262.8 L400.3 263.9 L400.7 265.4 L400.7 267.3 L401.1 268.8 L401.4 270.4 L401.7 271.8 L402.0 273.5 L402.2 275.3 L402.5 276.7 L402.8 278.8 L402.9 280.1 L403.4 281.3 L403.5 283.5 L403.7 284.9 L404.0 287.0 L404.0 288.4 L404.4 289.9 L404.6 291.6 L404.9 293.4 L404.9 295.2 L405.1 296.3 L405.4 298.3 L405.7 300.3 L405.9 301.3 L406.2 303.6 L406.2 305.1 L406.7 306.9 L407.1 308.5 L407.2 309.9 L407.8 311.7 L408.1 313.1 L408.3 315.3 L408.8 316.8 L409.0 318.3 L409.5 319.8 L409.8 321.9 L410.2 323.0 L410.4 325.2 L411.1 326.7 L411.5 328.6 L412.0 330.0 L412.4 331.4 L413.1 333.1 L413.5 334.9 L414.0 336.6 L414.4 338.1 L415.0 340.4 L416.0 341.2 L416.9 343.2 L418.0 344.6 L418.8 346.0 L420.2 347.1 L421.2 348.9 L422.4 349.8 L423.7 351.0 L425.1 352.3 L426.4 353.3 L428.0 353.6 L429.9 354.3 L430.0 355.6 L384.6 355.6 Z" fill="url(#dots)" stroke="#e2e2e2" stroke-width="1.2" stroke-linejoin="round"/>
<path d="M429.2 355.8 L430.3 354.3 L431.6 353.5 L432.8 352.3 L433.7 351.4 L434.7 349.7 L435.8 347.8 L436.6 346.4 L437.7 345.1 L438.4 343.6 L439.4 341.9 L440.7 340.7 L441.4 338.7 L444.0 340.2 L444.7 338.7 L445.0 336.8 L445.7 334.8 L446.3 332.8 L446.5 330.5 L447.3 329.2 L447.6 327.3 L448.2 325.4 L448.6 323.2 L448.7 321.6 L448.9 320.1 L449.0 318.3 L449.1 317.0 L449.4 315.3 L449.7 313.2 L449.9 311.7 L450.0 310.5 L450.1 308.3 L450.4 306.6 L450.5 305.5 L450.6 303.5 L450.8 302.1 L450.8 300.4 L450.9 298.5 L451.1 297.2 L451.3 295.2 L451.3 293.7 L451.4 292.0 L451.5 290.8 L451.7 288.7 L451.9 287.2 L452.0 285.5 L452.1 283.8 L452.0 282.6 L452.2 280.9 L452.3 279.1 L452.6 277.5 L452.7 276.4 L452.6 274.1 L452.7 273.1 L452.9 271.3 L452.9 269.8 L453.2 268.1 L453.2 265.9 L453.5 264.8 L453.6 262.6 L453.7 261.5 L453.8 259.6 L454.1 257.7 L454.1 256.4 L454.2 254.3 L454.5 253.0 L454.5 251.1 L454.8 249.7 L455.1 248.2 L455.3 246.1 L455.7 244.9 L455.9 243.2 L456.3 241.6 L456.7 240.0 L456.8 241.4 L457.2 243.3 L457.5 245.0 L457.9 246.1 L458.1 247.9 L458.5 249.5 L458.6 250.9 L458.7 252.8 L458.8 254.2 L459.0 256.4 L459.1 257.6 L459.2 259.3 L459.3 260.7 L459.3 263.0 L459.4 264.3 L459.4 265.9 L459.6 267.9 L459.7 268.9 L460.0 270.6 L459.9 272.1 L460.0 274.2 L460.2 275.3 L460.3 277.4 L460.3 279.1 L460.6 280.8 L460.5 281.8 L460.8 283.8 L460.8 285.3 L460.9 287.0 L461.2 288.7 L461.2 290.0 L461.2 292.1 L461.6 293.7 L461.5 295.0 L461.7 297.0 L461.9 298.3 L461.8 300.2 L462.0 301.4 L462.3 303.2 L462.4 305.1 L462.4 306.7 L462.5 307.8 L462.7 310.1 L462.8 311.2 L462.9 313.1 L463.0 314.7 L463.3 316.3 L463.4 317.7 L463.7 320.0 L463.8 321.6 L464.1 323.2 L464.0 324.9 L464.2 326.4 L464.4 328.1 L464.7 329.6 L464.9 331.4 L465.3 333.0 L465.6 335.1 L466.0 336.3 L466.4 337.9 L466.7 340.2 L467.0 341.4 L467.3 343.3 L467.6 344.7 L468.6 346.5 L469.5 348.2 L470.5 349.8 L471.4 352.0 L473.3 352.8 L475.1 353.6 L476.9 354.8 L479.0 355.2 L481.0 355.3 L483.1 355.6" fill="none" stroke="#a2a2a2" stroke-width="1.3" stroke-linejoin="round"/>
<path d="M406.2 355.8 L407.7 355.1 L409.2 354.2 L410.7 354.5 L412.3 353.7 L414.3 352.5 L416.1 351.6 L417.8 352.4 L420.0 354.0 L422.0 353.4 L424.2 354.0 L426.0 353.8 L427.6 353.2 L428.8 350.8 L430.2 349.5 L430.7 348.2 L431.0 346.9 L431.6 345.2 L431.9 343.7 L432.4 342.2 L432.6 340.8 L433.0 339.2 L433.9 337.6 L434.6 335.8 L435.0 334.3 L435.8 333.0 L436.3 331.3 L437.5 329.8 L438.7 328.7 L440.0 327.0 L441.0 328.4 L442.2 330.1 L443.1 331.2 L445.5 329.3 L446.6 331.1 L447.5 333.4 L449.2 332.7 L450.9 331.5 L451.1 330.1 L451.9 328.0 L452.1 326.0 L452.7 325.1 L453.3 323.9 L453.6 321.8 L453.6 320.1 L453.8 318.6 L454.1 316.6 L454.4 314.9 L454.4 313.6 L454.6 311.3 L454.8 309.9 L455.1 308.4 L455.2 307.1 L455.4 304.9 L455.5 303.8 L455.8 301.7 L455.8 299.7 L456.2 298.9 L456.1 296.7 L456.5 295.5 L456.7 293.7 L456.7 292.1 L456.8 289.7 L457.0 288.4 L457.1 286.5 L457.4 285.2 L457.7 283.3 L457.5 281.9 L457.9 280.1 L458.0 278.3 L458.0 276.3 L458.3 275.5 L458.3 273.7 L458.6 271.9 L458.7 270.0 L459.0 268.6 L458.9 267.0 L459.0 264.9 L459.1 263.8 L459.3 261.5 L459.7 260.3 L459.9 258.7 L459.7 256.4 L460.1 255.4 L460.2 253.7 L460.4 251.4 L460.8 249.7 L460.8 248.5 L461.0 246.6 L461.4 244.6 L462.0 243.5 L462.5 241.9 L462.9 240.1 L464.8 240.2 L464.9 241.2 L464.8 243.3 L465.3 244.7 L465.4 246.2 L465.3 247.5 L465.4 249.6 L465.8 250.8 L466.0 252.6 L465.9 253.9 L466.0 255.6 L466.2 257.9 L466.2 259.1 L466.4 260.7 L466.4 262.2 L466.8 263.6 L466.7 265.5 L466.8 266.9 L466.8 268.6 L467.0 270.7 L467.3 271.8 L467.2 273.4 L467.2 275.8 L467.6 277.0 L467.5 279.0 L467.8 280.2 L468.0 281.9 L468.2 283.4 L468.1 285.4 L468.2 287.0 L468.4 288.9 L468.7 290.7 L468.8 291.9 L468.9 293.7 L469.0 295.7 L469.4 297.0 L469.6 298.4 L469.7 300.2 L469.8 302.0 L470.0 303.5 L470.5 305.0 L470.7 306.9 L471.0 308.4 L471.2 310.3 L471.3 312.0 L471.7 313.7 L472.1 315.2 L472.3 317.1 L473.0 319.3 L473.7 320.8 L474.1 321.6 L474.8 323.0 L475.3 325.2 L476.6 326.5 L477.6 328.3 L478.8 330.0 L479.9 331.3 L481.3 332.3 L482.4 334.5 L483.3 335.3 L484.5 337.0 L485.7 338.6 L486.8 339.9 L487.9 342.1 L489.3 343.8 L490.7 344.9 L492.4 345.9 L493.6 347.0 L495.5 348.1 L496.7 348.2 L498.5 349.4 L499.9 349.2 L501.4 348.2 L502.8 347.3 L503.8 346.8 L504.7 345.2 L505.6 343.7 L506.0 341.7 L506.7 340.5 L507.5 338.7" fill="none" stroke="#111" stroke-width="1.5" stroke-linejoin="round"/>
<rect x="384.6" y="232.0" width="123.1" height="123.6" fill="none" stroke="#4a4a4a" stroke-width="1"/>
<line x1="381.6" y1="355.6" x2="384.6" y2="355.6" stroke="#444" stroke-width="1"/>
<text x="380.3" y="358.7" font-size="8.8" fill="#222" text-anchor="end">0</text>
<line x1="382.8" y1="349.7" x2="384.6" y2="349.7" stroke="#666" stroke-width="0.8"/>
<line x1="382.8" y1="343.8" x2="384.6" y2="343.8" stroke="#666" stroke-width="0.8"/>
<line x1="382.8" y1="337.9" x2="384.6" y2="337.9" stroke="#666" stroke-width="0.8"/>
<line x1="381.6" y1="332.1" x2="384.6" y2="332.1" stroke="#444" stroke-width="1"/>
<text x="380.3" y="335.2" font-size="8.8" fill="#222" text-anchor="end">20</text>
<line x1="382.8" y1="326.2" x2="384.6" y2="326.2" stroke="#666" stroke-width="0.8"/>
<line x1="382.8" y1="320.3" x2="384.6" y2="320.3" stroke="#666" stroke-width="0.8"/>
<line x1="382.8" y1="314.4" x2="384.6" y2="314.4" stroke="#666" stroke-width="0.8"/>
<line x1="381.6" y1="308.5" x2="384.6" y2="308.5" stroke="#444" stroke-width="1"/>
<text x="380.3" y="311.6" font-size="8.8" fill="#222" text-anchor="end">40</text>
<line x1="382.8" y1="302.6" x2="384.6" y2="302.6" stroke="#666" stroke-width="0.8"/>
<line x1="382.8" y1="296.7" x2="384.6" y2="296.7" stroke="#666" stroke-width="0.8"/>
<line x1="382.8" y1="290.8" x2="384.6" y2="290.8" stroke="#666" stroke-width="0.8"/>
<line x1="381.6" y1="285.0" x2="384.6" y2="285.0" stroke="#444" stroke-width="1"/>
<text x="380.3" y="288.1" font-size="8.8" fill="#222" text-anchor="end">60</text>
<line x1="382.8" y1="279.1" x2="384.6" y2="279.1" stroke="#666" stroke-width="0.8"/>
<line x1="382.8" y1="273.2" x2="384.6" y2="273.2" stroke="#666" stroke-width="0.8"/>
<line x1="382.8" y1="267.3" x2="384.6" y2="267.3" stroke="#666" stroke-width="0.8"/>
<line x1="381.6" y1="261.4" x2="384.6" y2="261.4" stroke="#444" stroke-width="1"/>
<text x="380.3" y="264.5" font-size="8.8" fill="#222" text-anchor="end">80</text>
<line x1="382.8" y1="255.5" x2="384.6" y2="255.5" stroke="#666" stroke-width="0.8"/>
<line x1="382.8" y1="249.6" x2="384.6" y2="249.6" stroke="#666" stroke-width="0.8"/>
<line x1="382.8" y1="243.7" x2="384.6" y2="243.7" stroke="#666" stroke-width="0.8"/>
<line x1="381.6" y1="237.9" x2="384.6" y2="237.9" stroke="#444" stroke-width="1"/>
<text x="380.3" y="241.0" font-size="8.8" fill="#222" text-anchor="end">100</text>
<line x1="384.6" y1="355.6" x2="384.6" y2="358.8" stroke="#444" stroke-width="1"/>
<text x="385.6" y="369.2" font-size="9.5" fill="#2a2a2a" text-anchor="middle">10<tspan dy="-4" font-size="7.8">0</tspan></text>
<line x1="393.9" y1="355.6" x2="393.9" y2="357.4" stroke="#777" stroke-width="0.7"/>
<line x1="399.3" y1="355.6" x2="399.3" y2="357.4" stroke="#777" stroke-width="0.7"/>
<line x1="403.1" y1="355.6" x2="403.1" y2="357.4" stroke="#777" stroke-width="0.7"/>
<line x1="406.1" y1="355.6" x2="406.1" y2="357.4" stroke="#777" stroke-width="0.7"/>
<line x1="408.5" y1="355.6" x2="408.5" y2="357.4" stroke="#777" stroke-width="0.7"/>
<line x1="410.6" y1="355.6" x2="410.6" y2="357.4" stroke="#777" stroke-width="0.7"/>
<line x1="412.4" y1="355.6" x2="412.4" y2="357.4" stroke="#777" stroke-width="0.7"/>
<line x1="414.0" y1="355.6" x2="414.0" y2="357.4" stroke="#777" stroke-width="0.7"/>
<line x1="415.4" y1="355.6" x2="415.4" y2="358.8" stroke="#444" stroke-width="1"/>
<text x="416.4" y="369.2" font-size="9.5" fill="#2a2a2a" text-anchor="middle">10<tspan dy="-4" font-size="7.8">1</tspan></text>
<line x1="424.6" y1="355.6" x2="424.6" y2="357.4" stroke="#777" stroke-width="0.7"/>
<line x1="430.1" y1="355.6" x2="430.1" y2="357.4" stroke="#777" stroke-width="0.7"/>
<line x1="433.9" y1="355.6" x2="433.9" y2="357.4" stroke="#777" stroke-width="0.7"/>
<line x1="436.9" y1="355.6" x2="436.9" y2="357.4" stroke="#777" stroke-width="0.7"/>
<line x1="439.3" y1="355.6" x2="439.3" y2="357.4" stroke="#777" stroke-width="0.7"/>
<line x1="441.4" y1="355.6" x2="441.4" y2="357.4" stroke="#777" stroke-width="0.7"/>
<line x1="443.2" y1="355.6" x2="443.2" y2="357.4" stroke="#777" stroke-width="0.7"/>
<line x1="444.7" y1="355.6" x2="444.7" y2="357.4" stroke="#777" stroke-width="0.7"/>
<line x1="446.1" y1="355.6" x2="446.1" y2="358.8" stroke="#444" stroke-width="1"/>
<text x="447.1" y="369.2" font-size="9.5" fill="#2a2a2a" text-anchor="middle">10<tspan dy="-4" font-size="7.8">2</tspan></text>
<line x1="455.4" y1="355.6" x2="455.4" y2="357.4" stroke="#777" stroke-width="0.7"/>
<line x1="460.8" y1="355.6" x2="460.8" y2="357.4" stroke="#777" stroke-width="0.7"/>
<line x1="464.7" y1="355.6" x2="464.7" y2="357.4" stroke="#777" stroke-width="0.7"/>
<line x1="467.7" y1="355.6" x2="467.7" y2="357.4" stroke="#777" stroke-width="0.7"/>
<line x1="470.1" y1="355.6" x2="470.1" y2="357.4" stroke="#777" stroke-width="0.7"/>
<line x1="472.2" y1="355.6" x2="472.2" y2="357.4" stroke="#777" stroke-width="0.7"/>
<line x1="473.9" y1="355.6" x2="473.9" y2="357.4" stroke="#777" stroke-width="0.7"/>
<line x1="475.5" y1="355.6" x2="475.5" y2="357.4" stroke="#777" stroke-width="0.7"/>
<line x1="476.9" y1="355.6" x2="476.9" y2="358.8" stroke="#444" stroke-width="1"/>
<text x="477.9" y="369.2" font-size="9.5" fill="#2a2a2a" text-anchor="middle">10<tspan dy="-4" font-size="7.8">3</tspan></text>
<line x1="486.2" y1="355.6" x2="486.2" y2="357.4" stroke="#777" stroke-width="0.7"/>
<line x1="491.6" y1="355.6" x2="491.6" y2="357.4" stroke="#777" stroke-width="0.7"/>
<line x1="495.5" y1="355.6" x2="495.5" y2="357.4" stroke="#777" stroke-width="0.7"/>
<line x1="498.4" y1="355.6" x2="498.4" y2="357.4" stroke="#777" stroke-width="0.7"/>
<line x1="500.9" y1="355.6" x2="500.9" y2="357.4" stroke="#777" stroke-width="0.7"/>
<line x1="502.9" y1="355.6" x2="502.9" y2="357.4" stroke="#777" stroke-width="0.7"/>
<line x1="504.7" y1="355.6" x2="504.7" y2="357.4" stroke="#777" stroke-width="0.7"/>
<line x1="506.3" y1="355.6" x2="506.3" y2="357.4" stroke="#777" stroke-width="0.7"/>
<line x1="507.7" y1="355.6" x2="507.7" y2="358.8" stroke="#444" stroke-width="1"/>
<text x="508.7" y="369.2" font-size="9.5" fill="#2a2a2a" text-anchor="middle">10<tspan dy="-4" font-size="7.8">4</tspan></text>
<text transform="translate(363.4,293) rotate(-90)" font-size="8.8" fill="#383838" text-anchor="middle">% of Max</text>
<text x="449.4" y="218.4" class="b" font-size="12.8" text-anchor="middle">GA101 6h</text>
<text x="506.5" y="243.2" class="b" font-size="8.8" text-anchor="end">349</text>
<text x="506.5" y="254.2" font-size="8.8" fill="#777" text-anchor="end">201</text>
<line x1="62" y1="376.4" x2="508.5" y2="376.4" stroke="#000" stroke-width="2.6"/>
<path d="M507.6 372.7 L514 376.4 L507.6 380.1 Z" fill="#000"/>
<text x="61" y="392.4" class="b" font-size="12.9">Lysotracker</text>
</g>
<g id="panelC">
<path d="M141.8 459.4 V515.8 M136.6 459.4 H147.0 M136.6 515.8 H147.0" fill="none" stroke="#000" stroke-width="1.9"/>
<path d="M189.0 449.2 V483.2 M183.8 449.2 H194.2 M183.8 483.2 H194.2" fill="none" stroke="#000" stroke-width="1.9"/>
<path d="M236.2 461.0 V522.1 M231.0 461.0 H241.4 M231.0 522.1 H241.4" fill="none" stroke="#000" stroke-width="1.9"/>
<path d="M283.6 540.1 V558.1 M278.4 540.1 H288.8 M278.4 558.1 H288.8" fill="none" stroke="#000" stroke-width="1.9"/>
<path d="M141.8 501.7 V526.8 M136.6 501.7 H147.0 M136.6 526.8 H147.0" fill="none" stroke="#000" stroke-width="1.9"/>
<path d="M189.0 486.7 V517.4 M183.8 486.7 H194.2 M183.8 517.4 H194.2" fill="none" stroke="#000" stroke-width="1.9"/>
<path d="M236.2 504.4 V528.4 M231.0 504.4 H241.4 M231.0 528.4 H241.4" fill="none" stroke="#000" stroke-width="1.9"/>
<path d="M94.6 526.8 L141.8 487.3 L189.0 466.9 L236.2 490.0 L283.6 548.7" fill="none" stroke="#000" stroke-width="2.9"/>
<path d="M94.6 526.8 L141.8 513.9 L189.0 500.9 L236.2 515.8 L283.6 528.0" fill="none" stroke="#000" stroke-width="2.9"/>
<path d="M89.4 522.6 L99.8 522.6 L94.6 531.6 Z" fill="#000"/>
<path d="M136.6 483.1 L147.0 483.1 L141.8 492.1 Z" fill="#000"/>
<path d="M183.8 462.7 L194.2 462.7 L189.0 471.7 Z" fill="#000"/>
<path d="M231.0 485.8 L241.4 485.8 L236.2 494.8 Z" fill="#000"/>
<path d="M278.4 544.5 L288.8 544.5 L283.6 553.5 Z" fill="#000"/>
<rect x="90.6" y="522.8" width="8" height="8" fill="#000"/>
<rect x="137.8" y="509.9" width="8" height="8" fill="#000"/>
<rect x="185.0" y="496.9" width="8" height="8" fill="#000"/>
<rect x="232.2" y="511.8" width="8" height="8" fill="#000"/>
<rect x="279.6" y="524.0" width="8" height="8" fill="#000"/>
<rect x="71.5" y="421.8" width="236.8" height="156.7" fill="none" stroke="#000" stroke-width="2.7"/>
<line x1="66" y1="578.5" x2="71.5" y2="578.5" stroke="#000" stroke-width="2.3"/>
<text x="65.5" y="582.7" class="b" font-size="11.8" text-anchor="end">200</text>
<line x1="66" y1="547.2" x2="71.5" y2="547.2" stroke="#000" stroke-width="2.3"/>
<text x="65.5" y="551.4" class="b" font-size="11.8" text-anchor="end">400</text>
<line x1="66" y1="515.8" x2="71.5" y2="515.8" stroke="#000" stroke-width="2.3"/>
<text x="65.5" y="520.0" class="b" font-size="11.8" text-anchor="end">600</text>
<line x1="66" y1="484.5" x2="71.5" y2="484.5" stroke="#000" stroke-width="2.3"/>
<text x="65.5" y="488.7" class="b" font-size="11.8" text-anchor="end">800</text>
<line x1="66" y1="453.1" x2="71.5" y2="453.1" stroke="#000" stroke-width="2.3"/>
<text x="65.5" y="457.3" class="b" font-size="11.8" text-anchor="end">1000</text>
<line x1="66" y1="421.8" x2="71.5" y2="421.8" stroke="#000" stroke-width="2.3"/>
<text x="65.5" y="426.0" class="b" font-size="11.8" text-anchor="end">1200</text>
<line x1="94.6" y1="578.5" x2="94.6" y2="584.8" stroke="#000" stroke-width="2.3"/>
<text x="94.6" y="594.8" class="b" font-size="11.8" text-anchor="middle">0</text>
<line x1="141.8" y1="578.5" x2="141.8" y2="584.8" stroke="#000" stroke-width="2.3"/>
<text x="141.8" y="594.8" class="b" font-size="11.8" text-anchor="middle">1</text>
<line x1="189.0" y1="578.5" x2="189.0" y2="584.8" stroke="#000" stroke-width="2.3"/>
<text x="189.0" y="594.8" class="b" font-size="11.8" text-anchor="middle">2</text>
<line x1="236.2" y1="578.5" x2="236.2" y2="584.8" stroke="#000" stroke-width="2.3"/>
<text x="236.2" y="594.8" class="b" font-size="11.8" text-anchor="middle">4</text>
<line x1="283.6" y1="578.5" x2="283.6" y2="584.8" stroke="#000" stroke-width="2.3"/>
<text x="283.6" y="594.8" class="b" font-size="11.8" text-anchor="middle">6</text>
<text x="189.5" y="615" class="b" font-size="12.9" text-anchor="middle">time (hrs)</text>
<text transform="translate(31.2,500.3) rotate(-90)" class="b" font-size="12.9" text-anchor="middle">Geomean LT</text>
<text x="189" y="438.5" font-size="17" text-anchor="middle">*</text>
<line x1="321" y1="425.8" x2="338.5" y2="425.8" stroke="#000" stroke-width="2.7"/>
<rect x="325.4" y="421.6" width="8.4" height="8.4" fill="#000"/>
<text x="347.5" y="430.2" font-size="12.2">3T40L</text>
<line x1="321" y1="444.9" x2="338.5" y2="444.9" stroke="#000" stroke-width="2.7"/>
<path d="M324.8 441.2 L334.2 441.2 L329.5 450 Z" fill="#000"/>
<text x="347.5" y="449.5" font-size="12.2">3T40L+G</text>
</g>
</svg>
</body></html>
